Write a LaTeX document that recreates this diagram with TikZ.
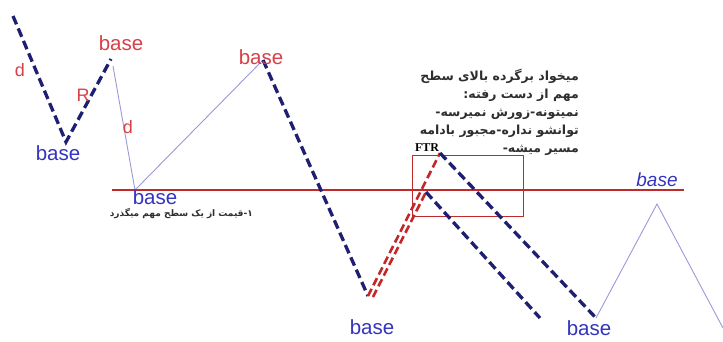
\documentclass[tikz,border=0pt]{standalone}
\usepackage{fontspec}
\setmainfont{Liberation Sans}
\newfontfamily\arabicfont[Script=Arabic]{DejaVu Sans}
\newfontfamily\ftrfont{Liberation Serif}
\TeXXeTstate=1
\definecolor{navyd}{HTML}{1E1E72}
\definecolor{basered}{HTML}{D84048}
\definecolor{baseblue}{HTML}{3434C0}
\definecolor{linered}{HTML}{C02A2A}
\definecolor{thinblue}{HTML}{9A9AD8}
\definecolor{txtgrey}{HTML}{2E2E2E}
\begin{document}
\begin{tikzpicture}[x=1pt,y=-1pt,
  navydash/.style={draw=navyd,line width=3.3pt,dash pattern=on 9pt off 4.5pt},
  reddash/.style={draw=linered!90!red,line width=2.6pt,dash pattern=on 8pt off 4pt},
  thinline/.style={draw=thinblue,line width=0.9pt},
  redbase/.style={text=basered,font=\fontsize{20.5}{22}\selectfont,inner sep=0pt},
  bluebase/.style={text=baseblue,font=\fontsize{20.5}{22}\selectfont,inner sep=0pt},
  letter/.style={text=basered,font=\fontsize{18}{20}\selectfont,inner sep=0pt},
  fatext/.style={text=txtgrey,font=\arabicfont\bfseries\fontsize{12.5}{18}\selectfont,inner sep=0pt}
]
\useasboundingbox (0,0) rectangle (723,341);
\fill[white] (0,0) rectangle (723,341);

% points
\coordinate (a1) at (13,16);
\coordinate (a2) at (66,142);
\coordinate (a3) at (111,59);
\coordinate (t1) at (113,66);
\coordinate (b1) at (135,190);
\coordinate (c1) at (263,60);
\coordinate (v1) at (368,296);
\coordinate (p1) at (440,153);
\coordinate (q0) at (373,297);
\coordinate (q1) at (426,192);
\coordinate (e1) at (596,318);
\coordinate (e2) at (540,318);
\coordinate (r1) at (657,204);
\coordinate (r2) at (723,328);
\coordinate (h0) at (112,190);
\coordinate (h1) at (684,190);

% horizontal red line
\draw[linered,line width=2.6pt] (h0) -- (h1);

% rectangle
\node[draw=linered,line width=1pt,minimum width=111pt,minimum height=61pt,inner sep=0pt,anchor=north west] (box) at (412,155) {};

% top-left V
\draw[navydash] (a1) -- (a2) -- (a3);
% thin lines
\draw[thinline] (t1) -- (b1) -- (c1);
\draw[thinline] (e1) -- (r1) -- (r2);
% big descending dashed
\draw[navydash] (c1) -- (v1);
% red dashed
\draw[reddash] (v1) -- (p1);
\draw[reddash] (q0) -- (q1);
% blue descending from FTR
\draw[navydash] (p1) -- (e1);
\draw[navydash] (q1) -- (e2);

% labels
\node[letter] (ld1) at (20,70) {d};
\node[letter] (lr) at (83,95) {R};
\node[letter] (ld2) at (128,127) {d};
\node[redbase] (rb1) at (121,43) {base};
\node[bluebase] (bb1) at (58,153) {base};
\node[redbase] (rb2) at (261,57) {base};
\node[fatext,font=\arabicfont\bfseries\fontsize{9}{11}\selectfont,anchor=east] (fa2) at (253,214) {\beginR ۱-قیمت از یک سطح مهم میگذرد\endR};
\node[bluebase] (bb2) at (155,197) {base};
\node[bluebase] (bb3) at (372,327) {base};
\node[bluebase] (bb4) at (589,328) {base};
\node[bluebase,font=\itshape\fontsize{19}{21}\selectfont] (bb5) at (657,180) {base};
\node[text=black,font=\ftrfont\bfseries\fontsize{12}{14}\selectfont,inner sep=0pt] (ftr) at (427,148) {FTR};
\node[fatext,align=right,anchor=north east] (fa1) at (579,69) {\beginR میخواد برگرده بالای سطح\endR\\
\beginR مهم از دست رفته:\endR\\
\beginR نمیتونه-زورش نمیرسه-\endR\\
\beginR توانشو نداره-مجبور بادامه\endR\\
\beginR مسیر میشه-\endR};
\end{tikzpicture}
\end{document}
